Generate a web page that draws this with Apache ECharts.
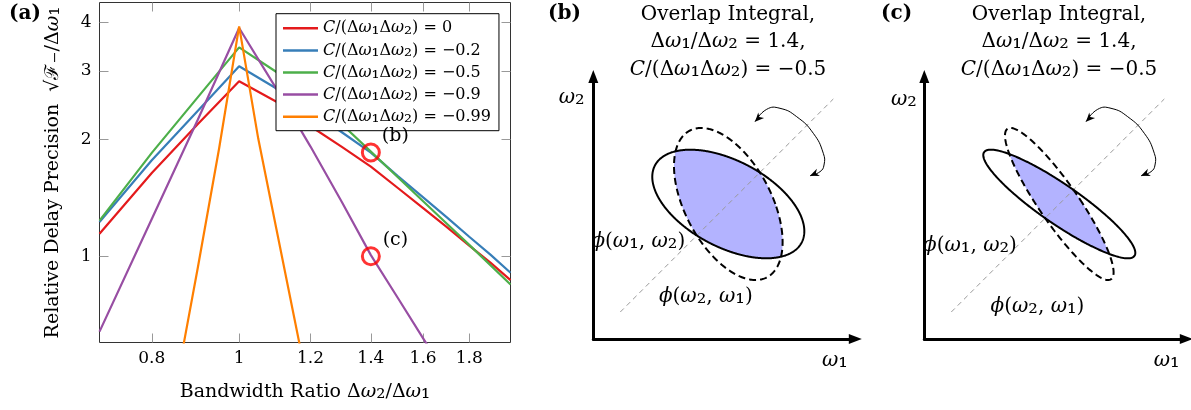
<!DOCTYPE html>
<html><head><meta charset="utf-8">
<script src="https://cdn.jsdelivr.net/npm/echarts@6/dist/echarts.min.js"></script>
<style>html,body{margin:0;padding:0;background:#fff}#c{width:1191px;height:410px}</style>
</head><body><div id="c"></div>
<script>
// ---------------- data: panel (a) ----------------
const ratioGrid = [0.7, 0.8, 0.9, 1.0, 1.1, 1.2, 1.3, 1.4, 1.5, 1.6, 1.7, 1.8, 1.9, 2.0];
const precC0    = [1.143, 1.638, 2.190, 2.823, 2.498, 2.161, 1.913, 1.702, 1.499, 1.330, 1.189, 1.065, 0.963, 0.868];
const precC02   = [1.225, 1.766, 2.370, 3.084, 2.703, 2.368, 2.086, 1.849, 1.609, 1.418, 1.260, 1.123, 1.010, 0.907];
const precC05   = [1.236, 1.846, 2.568, 3.450, 2.981, 2.557, 2.187, 1.860, 1.598, 1.386, 1.213, 1.070, 0.949, 0.846];
const ratioC09  = [0.7, 0.8, 0.9, 1.0, 1.1, 1.2, 1.3, 1.4, 1.5, 1.6, 1.7];
const precC09   = [0.640, 1.247, 2.250, 3.869, 2.698, 1.916, 1.379, 1.007, 0.781, 0.615, 0.492];
const ratioC099 = [0.85, 0.9, 0.95, 1.0, 1.05, 1.1, 1.15, 1.2];
const precC099  = [0.458, 0.937, 1.891, 3.905, 2.009, 1.174, 0.703, 0.430];
const seriesNames = ['C/(Δω₁Δω₂) = 0', 'C/(Δω₁Δω₂) = −0.2', 'C/(Δω₁Δω₂) = −0.5', 'C/(Δω₁Δω₂) = −0.9', 'C/(Δω₁Δω₂) = −0.99'];
const seriesColors = ['#e41a1c', '#377eb8', '#4daf4a', '#984ea3', '#ff7f00'];
const xTicks = [0.8, 1, 1.2, 1.4, 1.6, 1.8];
const yTicks = [1, 2, 3, 4];
const xRange = [0.7, 2.0];
const yRange = [0.6, 4.5];
const markedRatio = [1.4, 1.4];
const markedPrec  = [1.85, 1.0];
const markedNames = ['(b)', '(c)'];

// ---------------- data: panels (b), (c) ----------------
const panelCorrelation = [-0.5, -0.9];
const bandwidthRatio = 1.4;            // Δω1/Δω2
const ellipseCenter = [135, 135];      // diagram units
const ellipseDw2 = 54.3;               // Δω2 extent (diagram units)
const diagonalEnds = [27, 240];
const arcX = [161.7, 173.4, 186.7, 203.4, 220, 230, 230.7, 226.7, 216.7];
const arcY = [217.3, 229.7, 230.7, 222.3, 205.7, 185.7, 174, 167.3, 163.3];
const diagramSpan = [262, 262.5];

// ---------------- helpers ----------------
const FONT = 'DejaVu Serif';
const L = Math.log10;
const fmtTick = v => String(parseFloat(Math.pow(10, v).toFixed(2)));
const mathify = s => s.replace(/C/g, '{i|C}').replace(/ω/g, '{i|ω}').replace(/ϕ/g, '{i|ϕ}')
  .replace(/([₁₂₋])/g, '{s|$1}');
function richSet(size, lh, useFill) {
  const c = useFill ? {fill: '#000'} : {color: '#000'};
  return {
    i: Object.assign({fontStyle: 'italic', fontFamily: FONT, fontSize: size, lineHeight: lh}, c),
    s: Object.assign({fontFamily: FONT, fontSize: Math.round(size * 1.22), lineHeight: lh}, c)
  };
}

function lineSeries(idx, xs, ys) {
  return {
    type: 'line', name: seriesNames[idx], xAxisIndex: 0, yAxisIndex: 0,
    data: xs.map((x, i) => [L(x), L(ys[i])]),
    symbol: 'none', showSymbol: false, clip: true, z: 2,
    lineStyle: {width: 2.2, color: seriesColors[idx]},
    itemStyle: {color: seriesColors[idx]}
  };
}

function diagramSeries(panel) {
  const rho = panelCorrelation[panel];
  return {
    type: 'custom', xAxisIndex: panel + 2, yAxisIndex: panel + 2, silent: true, clip: false, z: 3,
    data: [[ellipseCenter[0], ellipseCenter[1]]],
    renderItem: function (params, api) {
      const cx = api.value(0), cy = api.value(1);
      const s1 = ellipseDw2 * bandwidthRatio, s2 = ellipseDw2;
      const det = s1 * s1 * s2 * s2 * (1 - rho * rho);
      const a = s2 * s2 / det, b = -rho * s1 * s2 / det, d = s1 * s1 / det;
      const N = 720, solid = [], dashed = [], overlap = [];
      for (let k = 0; k < N; k++) {
        const t = 2 * Math.PI * k / N, ux = Math.cos(t), uy = Math.sin(t);
        const rA = 1 / Math.sqrt(a * ux * ux + 2 * b * ux * uy + d * uy * uy);
        const rB = 1 / Math.sqrt(d * ux * ux + 2 * b * ux * uy + a * uy * uy);
        const r = Math.min(rA, rB);
        solid.push(api.coord([cx + rA * ux, cy + rA * uy]));
        dashed.push(api.coord([cx + rB * ux, cy + rB * uy]));
        overlap.push(api.coord([cx + r * ux, cy + r * uy]));
      }
      const arcPts = arcX.map((x, i) => api.coord([x, arcY[i]]));
      function head(tip, from) {
        const dx = tip[0] - from[0], dy = tip[1] - from[1], n = Math.hypot(dx, dy);
        const ux = dx / n, uy = dy / n, len = 9, hw = 4;
        return {type: 'polygon', shape: {points: [tip,
          [tip[0] - ux * len - uy * hw, tip[1] - uy * len + ux * hw],
          [tip[0] - ux * len * 0.7, tip[1] - uy * len * 0.7],
          [tip[0] - ux * len + uy * hw, tip[1] - uy * len - ux * hw]]},
          style: {fill: '#000'}};
      }
      const n = arcPts.length;
      return {
        type: 'group', children: [
          {type: 'polygon', shape: {points: overlap}, style: {fill: '#b3b3ff', stroke: null}},
          {type: 'polyline', shape: {points: [api.coord([diagonalEnds[0], diagonalEnds[0]]), api.coord([diagonalEnds[1], diagonalEnds[1]])]},
            style: {stroke: '#999', lineWidth: 1, lineDash: [5, 4], fill: null}},
          {type: 'polygon', shape: {points: solid}, style: {fill: null, stroke: '#000', lineWidth: 2}},
          {type: 'polygon', shape: {points: dashed}, style: {fill: null, stroke: '#000', lineWidth: 2, lineDash: [7, 4]}},
          {type: 'polyline', shape: {points: arcPts, smooth: 0.5}, style: {fill: null, stroke: '#000', lineWidth: 1}},
          head(arcPts[0], arcPts[1]),
          head(arcPts[n - 1], arcPts[n - 2])
        ]
      };
    }
  };
}

function diagramAxis(gridIndex, max) {
  return {
    gridIndex: gridIndex, type: 'value', min: 0, max: max,
    axisLine: {show: true, onZero: false, symbol: ['none', 'triangle'], symbolSize: [10, 13],
      lineStyle: {color: '#000', width: 3}},
    axisTick: {show: false}, axisLabel: {show: false}, splitLine: {show: false}
  };
}

const tickStyle = {show: true, inside: true, length: 9, lineStyle: {color: '#999', width: 1}};
const labelStyle = {fontFamily: FONT, fontSize: 17, color: '#000'};
const nameStyle = {fontFamily: FONT, fontSize: 19, color: '#000', rich: richSet(19, 24)};
const titleStyle = {fontFamily: FONT, fontWeight: 'normal', fontSize: 20, lineHeight: 27.5, color: '#000', rich: richSet(20, 27.5)};
const boldStyle = {fontFamily: FONT, fontWeight: 'bold', fontSize: 20, color: '#000'};
const diagText = (x, y, s) => ({type: 'text', x: x, y: y, z: 10,
  style: {text: mathify(s), fontFamily: FONT, fontSize: 20, fill: '#000', align: 'center', verticalAlign: 'middle', rich: richSet(20, 24, true)}});
const plainAxis = {axisLine: {show: false, onZero: false}, splitLine: {show: false}};

const option = {
  animation: false,
  backgroundColor: '#fff',
  textStyle: {fontFamily: FONT},
  title: [
    {text: '(a)', left: 9, top: 4, padding: 0, textStyle: boldStyle},
    {text: '(b)', left: 548, top: 4, padding: 0, textStyle: boldStyle},
    {text: '(c)', left: 881, top: 4, padding: 0, textStyle: boldStyle},
    {text: mathify('Overlap Integral,\nΔω₁/Δω₂ = 1.4,\nC/(Δω₁Δω₂) = −0.5'), left: 728, top: 1, padding: 0, textAlign: 'center', textStyle: titleStyle},
    {text: mathify('Overlap Integral,\nΔω₁/Δω₂ = 1.4,\nC/(Δω₁Δω₂) = −0.5'), left: 1059, top: 1, padding: 0, textAlign: 'center', textStyle: titleStyle}
  ],
  legend: {
    data: seriesNames.map(n => ({name: n, icon: 'rect'})), orient: 'vertical', left: 276, top: 13.7, z: 3,
    padding: [4.6, 8, 4, 7], itemGap: 2.1, itemWidth: 35, itemHeight: 2.5, selectedMode: false,
    backgroundColor: '#fff', borderColor: '#000', borderWidth: 1, borderRadius: 0,
    formatter: name => mathify(name),
    textStyle: {fontFamily: FONT, fontSize: 16, color: '#000', lineHeight: 16.8, rich: richSet(16, 16.8)}
  },
  grid: [
    {left: 99.5, top: 2.5, width: 411, height: 340, show: true, borderColor: '#333', borderWidth: 1,
      backgroundColor: 'transparent', containLabel: false, outerBoundsMode: 'none'},
    {left: 593.3, top: 76.5, width: diagramSpan[0], height: diagramSpan[1], containLabel: false, outerBoundsMode: 'none'},
    {left: 924.3, top: 76.5, width: diagramSpan[0], height: diagramSpan[1], containLabel: false, outerBoundsMode: 'none'}
  ],
  xAxis: [
    Object.assign({gridIndex: 0, type: 'value', position: 'bottom', min: L(xRange[0]), max: L(xRange[1]),
      axisTick: Object.assign({customValues: xTicks.map(L)}, tickStyle),
      axisLabel: Object.assign({customValues: xTicks.map(L), formatter: fmtTick, margin: 8}, labelStyle),
      name: mathify('Bandwidth Ratio Δω₂/Δω₁'), nameLocation: 'middle', nameGap: 38, nameTextStyle: nameStyle}, plainAxis),
    Object.assign({gridIndex: 0, type: 'value', position: 'top', min: L(xRange[0]), max: L(xRange[1]),
      axisLabel: {show: false},
      axisTick: Object.assign({customValues: xTicks.map(L)}, tickStyle)}, plainAxis),
    diagramAxis(1, diagramSpan[0]),
    diagramAxis(2, diagramSpan[0])
  ],
  yAxis: [
    Object.assign({gridIndex: 0, type: 'value', position: 'left', min: L(yRange[0]), max: L(yRange[1]),
      axisTick: Object.assign({customValues: yTicks.map(L)}, tickStyle),
      axisLabel: Object.assign({customValues: yTicks.map(L), formatter: fmtTick, margin: 8}, labelStyle),
      name: mathify('Relative Delay Precision  √ℱ₋/Δω₁'), nameLocation: 'middle', nameGap: 34, nameTextStyle: nameStyle}, plainAxis),
    Object.assign({gridIndex: 0, type: 'value', position: 'right', min: L(yRange[0]), max: L(yRange[1]),
      axisLabel: {show: false},
      axisTick: Object.assign({customValues: yTicks.map(L)}, tickStyle)}, plainAxis),
    diagramAxis(1, diagramSpan[1]),
    diagramAxis(2, diagramSpan[1])
  ],
  graphic: [
    diagText(571.7, 98, 'ω₂'),
    diagText(835, 361, 'ω₁'),
    diagText(638.3, 242, 'ϕ(ω₁, ω₂)'),
    diagText(705.8, 296.7, 'ϕ(ω₂, ω₁)'),
    diagText(904, 100, 'ω₂'),
    diagText(1166.7, 361, 'ω₁'),
    diagText(970, 245.8, 'ϕ(ω₁, ω₂)'),
    diagText(1037.5, 306.7, 'ϕ(ω₂, ω₁)')
  ],
  series: [
    lineSeries(0, ratioGrid, precC0),
    lineSeries(1, ratioGrid, precC02),
    lineSeries(2, ratioGrid, precC05),
    lineSeries(3, ratioC09, precC09),
    lineSeries(4, ratioC099, precC099),
    {type: 'scatter', xAxisIndex: 0, yAxisIndex: 0, z: 10,
      data: markedRatio.map((x, i) => ({value: [L(x), L(markedPrec[i])], name: markedNames[i]})),
      symbol: 'circle', symbolSize: 17,
      itemStyle: {color: 'rgba(255,255,255,0)', borderColor: '#ff0000', borderWidth: 3},
      label: {show: true, formatter: '{b}', position: [34.5, -6.5], align: 'center', verticalAlign: 'middle',
        fontFamily: FONT, fontSize: 19, fontWeight: 'normal', color: '#000', textBorderWidth: 0, opacity: 1}},
    diagramSeries(0),
    diagramSeries(1)
  ]
};
const chart = echarts.init(document.getElementById('c'), null, {renderer: 'canvas'});
chart.setOption(option);
</script></body></html>
